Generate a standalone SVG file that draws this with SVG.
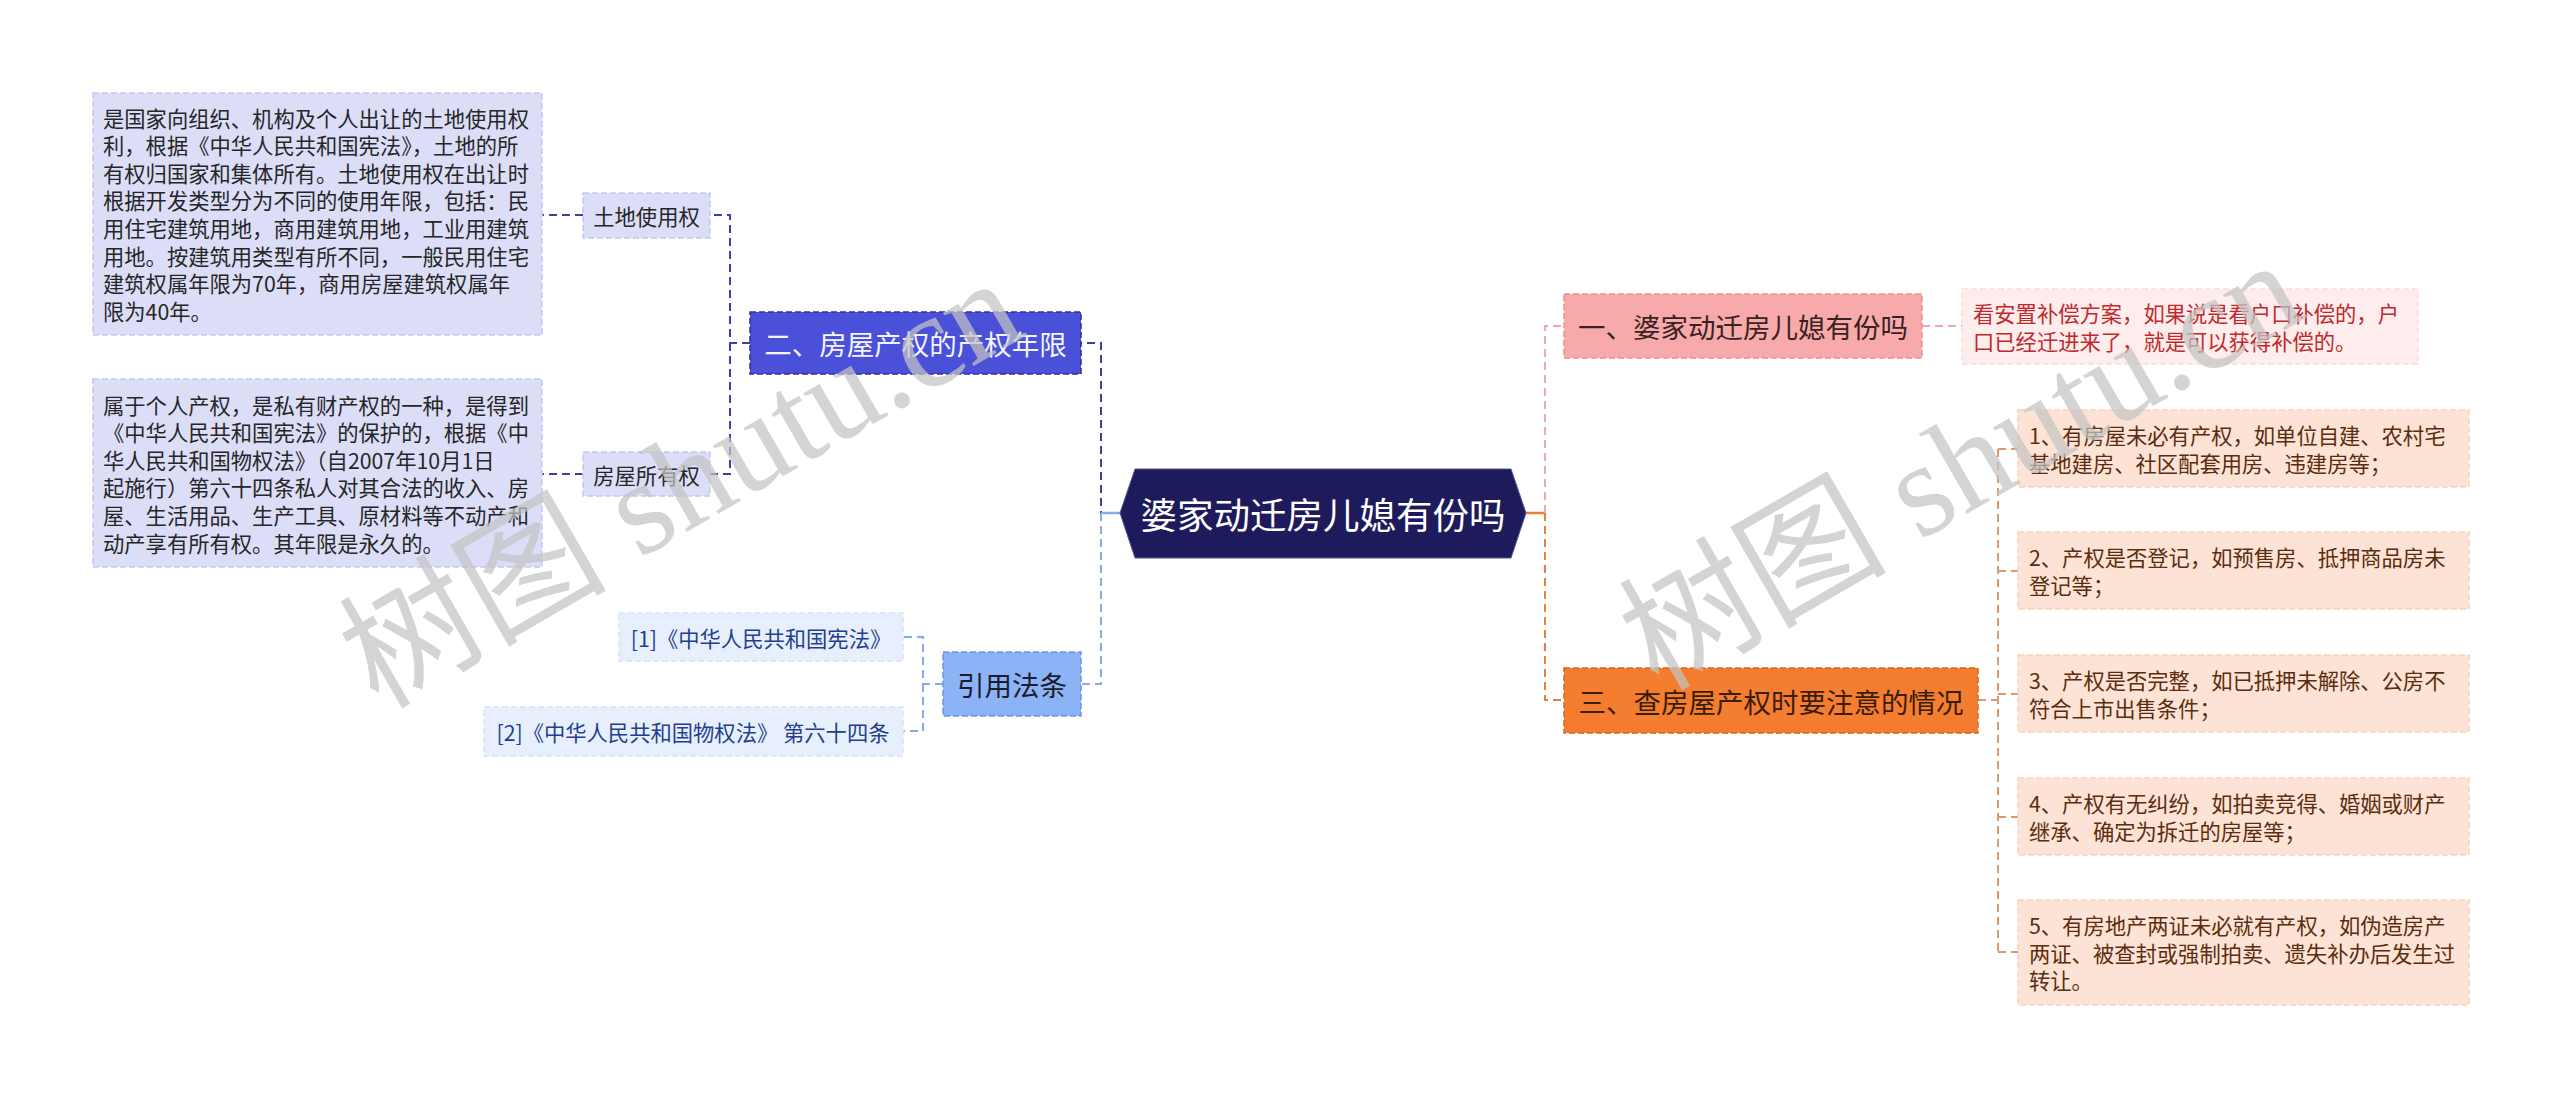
<svg xmlns="http://www.w3.org/2000/svg" width="2560" height="1097" viewBox="0 0 2560 1097">
<style>
text{font-family:"Noto Sans CJK SC","Noto Sans",sans-serif;dominant-baseline:central}
.s{font-size:21.3px}
.m{font-size:27.5px}
.lav{fill:#dcdef8;stroke:#c4c7f0;stroke-width:1.5;stroke-dasharray:6 3}
.dk{fill:#262626}
.c{stroke-width:2;fill:none;stroke-dasharray:8 5}
.navy{stroke:#3b40a8}
.lb{stroke:#86aaea}
.pk{stroke:#f0a8a8}
.or{stroke:#e8803a}
.br{stroke:#d99a6c}
.item{fill:#fde3d5;stroke:#f9d2bf;stroke-width:1.5;stroke-dasharray:6 3}
.itxt{fill:#5a2d0e}
.wm{font-family:"Liberation Serif","Noto Sans CJK SC",serif;font-size:134px;fill:#c4c4c4;fill-opacity:0.72;dominant-baseline:auto}
</style>
<rect width="2560" height="1097" fill="#ffffff"/>

<g id="connectors">
  <path class="c navy" d="M1120,513 H1101 V343 H1081"/>
  <path class="c lb" d="M1101,513 V684 H1081"/>
  <path d="M1101,513 H1120" stroke="#86aaea" stroke-width="2.5" fill="none"/>
  <path class="c navy" d="M750,343 H730 V215 H710"/>
  <path class="c navy" d="M730,343 V474 H710"/>
  <path class="c navy" d="M583,215 H542"/>
  <path class="c navy" d="M583,474 H542"/>
  <path class="c lb" d="M943,684 H923 V637 H903"/>
  <path class="c lb" d="M923,684 V731 H903"/>
  <path d="M1526,513 H1545" stroke="#e8803a" stroke-width="2.5" fill="none"/>
  <path class="c pk" d="M1545,513 V326 H1564"/>
  <path class="c or" d="M1545,513 V700 H1564"/>
  <path class="c pk" d="M1922,326 H1962"/>
  <path class="c br" d="M1978,700 H1998"/>
  <path class="c br" d="M1998,449 V952"/>
  <path class="c br" d="M1998,449 H2018 M1998,571 H2018 M1998,694 H2018 M1998,817 H2018 M1998,952 H2018"/>
</g>

<g id="center">
  <polygon points="1120,513 1135,469 1511,469 1526,513 1511,558 1135,558" fill="#1e1b5d" stroke="#55559a" stroke-width="1"/>
  <text x="1323" y="513" text-anchor="middle" font-size="36.5" fill="#ffffff">婆家动迁房儿媳有份吗</text>
</g>

<g id="n2">
  <rect x="750" y="312" width="331" height="62" fill="#4a50d8" stroke="#2c309c" stroke-width="1.5" stroke-dasharray="6 3"/>
  <text class="m" x="915.5" y="343" text-anchor="middle" fill="#f4f4ff">二、房屋产权的产权年限</text>
</g>

<g id="n2a">
  <rect class="lav" x="583" y="193" width="127" height="45"/>
  <text class="s dk" x="646.5" y="215.5" text-anchor="middle">土地使用权</text>
</g>
<g id="n2a1">
  <rect class="lav" x="93" y="93" width="449" height="242"/>
  <text class="s dk" x="103" y="117">是国家向组织、机构及个人出让的土地使用权</text>
  <text class="s dk" x="103" y="144.6">利，根据《中华人民共和国宪法》，土地的所</text>
  <text class="s dk" x="103" y="172.2">有权归国家和集体所有。土地使用权在出让时</text>
  <text class="s dk" x="103" y="199.8">根据开发类型分为不同的使用年限，包括：民</text>
  <text class="s dk" x="103" y="227.4">用住宅建筑用地，商用建筑用地，工业用建筑</text>
  <text class="s dk" x="103" y="255">用地。按建筑用类型有所不同，一般民用住宅</text>
  <text class="s dk" x="103" y="282.6">建筑权属年限为70年，商用房屋建筑权属年</text>
  <text class="s dk" x="103" y="310.2">限为40年。</text>
</g>

<g id="n2b">
  <rect class="lav" x="583" y="452" width="127" height="44"/>
  <text class="s dk" x="646.5" y="474" text-anchor="middle">房屋所有权</text>
</g>
<g id="n2b1">
  <rect class="lav" x="93" y="379" width="449" height="188"/>
  <text class="s dk" x="103" y="404">属于个人产权，是私有财产权的一种，是得到</text>
  <text class="s dk" x="103" y="431.6">《中华人民共和国宪法》的保护的，根据《中</text>
  <text class="s dk" x="103" y="459.2">华人民共和国物权法》（自2007年10月1日</text>
  <text class="s dk" x="103" y="486.8">起施行）第六十四条私人对其合法的收入、房</text>
  <text class="s dk" x="103" y="514.4">屋、生活用品、生产工具、原材料等不动产和</text>
  <text class="s dk" x="103" y="542">动产享有所有权。其年限是永久的。</text>
</g>

<g id="n4">
  <rect x="943" y="652" width="138" height="64" fill="#8cb3f6" stroke="#6f96e2" stroke-width="1.5" stroke-dasharray="6 3"/>
  <text class="m" x="1012" y="684" text-anchor="middle" fill="#1c1c2c">引用法条</text>
</g>
<g id="n4a">
  <rect x="619" y="613" width="284" height="48" fill="#e7effd" stroke="#d6e3fa" stroke-width="1.5" stroke-dasharray="6 3"/>
  <text class="s" x="761" y="637" text-anchor="middle" fill="#1f3f8e">[1]《中华人民共和国宪法》</text>
</g>
<g id="n4b">
  <rect x="484" y="707" width="419" height="49" fill="#e7effd" stroke="#d6e3fa" stroke-width="1.5" stroke-dasharray="6 3"/>
  <text class="s" x="693" y="731" text-anchor="middle" fill="#1f3f8e">[2]《中华人民共和国物权法》 第六十四条</text>
</g>

<g id="n1">
  <rect x="1564" y="294" width="358" height="64" fill="#f8aaaa" stroke="#ec9090" stroke-width="1.5" stroke-dasharray="6 3"/>
  <text class="m" x="1743" y="326" text-anchor="middle" fill="#3a2222">一、婆家动迁房儿媳有份吗</text>
</g>
<g id="n1a">
  <rect x="1962" y="289" width="456" height="75" fill="#fdeded" stroke="#f9dede" stroke-width="1.5" stroke-dasharray="6 3"/>
  <text class="s" x="1973" y="312" fill="#c3282c">看安置补偿方案，如果说是看户口补偿的，户</text>
  <text class="s" x="1973" y="340" fill="#c3282c">口已经迁进来了，就是可以获得补偿的。</text>
</g>

<g id="n3">
  <rect x="1564" y="668" width="414" height="65" fill="#f47d30" stroke="#d8661e" stroke-width="1.5" stroke-dasharray="6 3"/>
  <text class="m" x="1771" y="700.5" text-anchor="middle" fill="#3a1c08">三、查房屋产权时要注意的情况</text>
</g>
<g id="n3a">
  <rect class="item" x="2018" y="410" width="451" height="77"/>
  <text class="s itxt" x="2029" y="434.5">1、有房屋未必有产权，如单位自建、农村宅</text>
  <text class="s itxt" x="2029" y="462.5">基地建房、社区配套用房、违建房等；</text>
</g>
<g id="n3b">
  <rect class="item" x="2018" y="532" width="451" height="77"/>
  <text class="s itxt" x="2029" y="556.5">2、产权是否登记，如预售房、抵押商品房未</text>
  <text class="s itxt" x="2029" y="584.5">登记等；</text>
</g>
<g id="n3c">
  <rect class="item" x="2018" y="655" width="451" height="77"/>
  <text class="s itxt" x="2029" y="679.5">3、产权是否完整，如已抵押未解除、公房不</text>
  <text class="s itxt" x="2029" y="707.5">符合上市出售条件；</text>
</g>
<g id="n3d">
  <rect class="item" x="2018" y="778" width="451" height="77"/>
  <text class="s itxt" x="2029" y="802.5">4、产权有无纠纷，如拍卖竞得、婚姻或财产</text>
  <text class="s itxt" x="2029" y="830.5">继承、确定为拆迁的房屋等；</text>
</g>
<g id="n3e">
  <rect class="item" x="2018" y="900" width="451" height="105"/>
  <text class="s itxt" x="2029" y="924.4">5、有房地产两证未必就有产权，如伪造房产</text>
  <text class="s itxt" x="2029" y="952">两证、被查封或强制拍卖、遗失补办后发生过</text>
  <text class="s itxt" x="2029" y="979.6">转让。</text>
</g>

<g id="watermark">
  <text class="wm" transform="translate(378,710) rotate(-30)">树图 shutu.cn</text>
  <text class="wm" transform="translate(1658,692) rotate(-30)">树图 shutu.cn</text>
</g>
</svg>
